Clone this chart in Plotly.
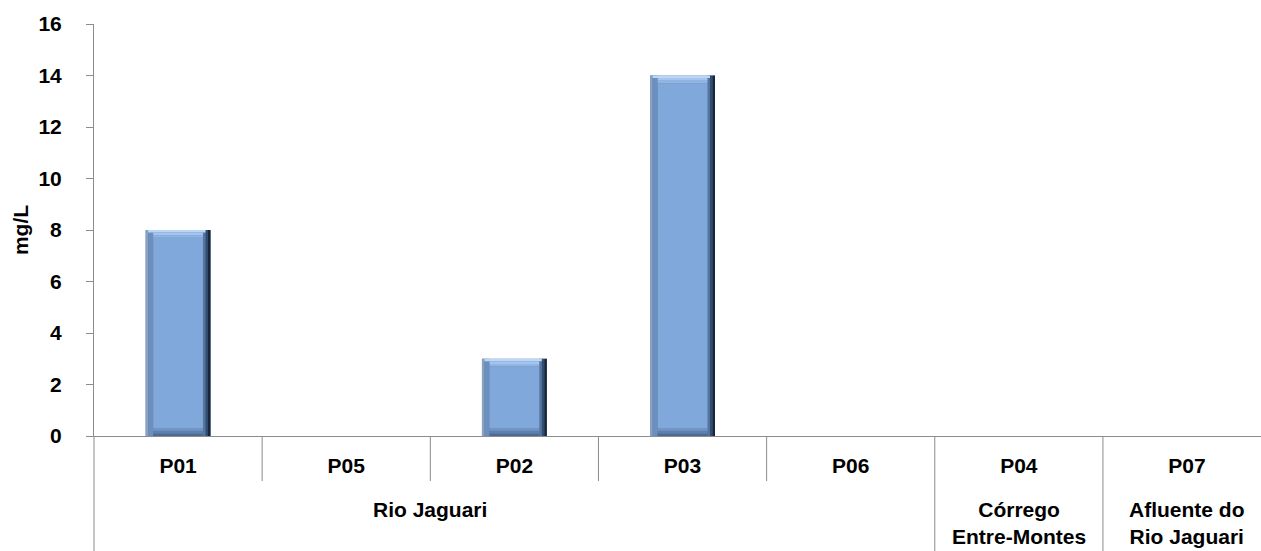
import numpy as np
import plotly.graph_objects as go

# Sampling points, their water body, and measured concentrations (mg/L)
points = ["P01", "P05", "P02", "P03", "P06", "P04", "P07"]
groups = ["Rio Jaguari", "Córrego<br>Entre-Montes", "Afluente do<br>Rio Jaguari"]
group_centers = [1.5, 5, 6]
values = [8, 0, 3, 14, 0, 0, 0]
y_ticks = [0, 2, 4, 6, 8, 10, 12, 14, 16]

W, H = 1261, 551
ML, MR, MT, MB = 94, 0, 24, 115
x_lo, x_hi = -0.5, 6.44

v = np.array(values, dtype=float)
has = v > 0
bar_w = 0.386          # bar width in category units
bx = 0.045             # horizontal bevel width
by = 0.30              # vertical bevel height (data units)

font = dict(family="Liberation Sans, Arial, sans-serif", size=21, color="black", weight="bold")

fig = go.Figure()

def layer(base, top, off, width, color):
    base = np.where(has, base, 0)
    top = np.where(has, top, 0)
    fig.add_trace(go.Bar(
        x=points, y=top - base, base=base,
        offset=[off] * len(points), width=[width] * len(points),
        marker=dict(color=color, line=dict(width=0)),
        hoverinfo="skip", showlegend=False,
    ))

half = bar_w / 2
zero = 0 * v
# body of each bar
layer(zero, v, -half, bar_w, "#5b7eae")
# left bevel, lighter at the outer edge
layer(zero, v, -half, bx / 3, "#8aa2c2")
layer(zero, v, -half + bx / 3, 2 * bx / 3, "#6c8fbe")
# right bevel, shaded towards the outer edge
s = bx / 3
layer(zero, v, half - 3 * s, s, "#56769f")
layer(zero, v, half - 2 * s, s, "#334d70")
layer(zero, v, half - s, s, "#17263b")
# top bevel, light at the upper edge
t = by / 3
inner_off, inner_w = -half + bx, bar_w - 2 * bx
layer(v - t, v, -half + bx / 3, bar_w - bx, "#bcd6f5")
layer(v - 2 * t, v - t, inner_off, inner_w, "#a5c5ee")
layer(v - 3 * t, v - 2 * t, inner_off, inner_w, "#91b6e4")
# bottom bevel, darker at the lower edge
layer(zero, zero + t, inner_off, inner_w, "#4d6a93")
layer(zero + t, zero + 2 * t, inner_off, inner_w, "#5f80ad")
layer(zero + 2 * t, zero + 3 * t, inner_off, inner_w, "#7095c6")
# face
layer(zero + by, v - by, inner_off, inner_w, "#80a8da")

gray = "#8c8c8c"

def xp(xv):
    return (xv - x_lo) / (x_hi - x_lo)

plot_h = H - MT - MB
bottom = -MB / plot_h
short = -45 / plot_h

shapes = []
# left axis line continued through the label area
shapes.append(dict(type="line", xref="paper", yref="paper", x0=0, x1=0, y0=bottom, y1=0,
                   line=dict(color=gray, width=1)))
# separators between points (short) and between water bodies (full height)
for i in range(len(points) - 1):
    b = i + 0.5
    full = points[i + 1] in ("P04", "P07")
    shapes.append(dict(type="line", xref="paper", yref="paper", x0=xp(b), x1=xp(b),
                       y0=bottom if full else short, y1=0,
                       line=dict(color=gray, width=1)))

annotations = []
for g, c in zip(groups, group_centers):
    annotations.append(dict(text=g, x=c, xref="x", y=-60 / plot_h, yref="paper",
                            yanchor="top", xanchor="center", showarrow=False,
                            font=font, align="center"))

fig.update_layout(
    width=W, height=H,
    margin=dict(l=ML, r=MR, t=MT, b=MB),
    plot_bgcolor="white", paper_bgcolor="white",
    barmode="overlay",
    shapes=shapes, annotations=annotations,
    xaxis=dict(
        type="category", range=[x_lo, x_hi],
        showline=True, linecolor=gray, linewidth=1,
        ticks="", showgrid=False, tickfont=font,
        ticklabelstandoff=11, fixedrange=True,
    ),
    yaxis=dict(
        range=[0, 16], tickvals=y_ticks, ticktext=[str(t) for t in y_ticks],
        showline=True, linecolor=gray, linewidth=1,
        ticks="outside", ticklen=7, tickcolor=gray,
        showgrid=False, zeroline=False, tickfont=font,
        ticklabelstandoff=20,
        title=dict(text="mg/L", font=font, standoff=4),
    ),
)

fig.write_html("out.html")
